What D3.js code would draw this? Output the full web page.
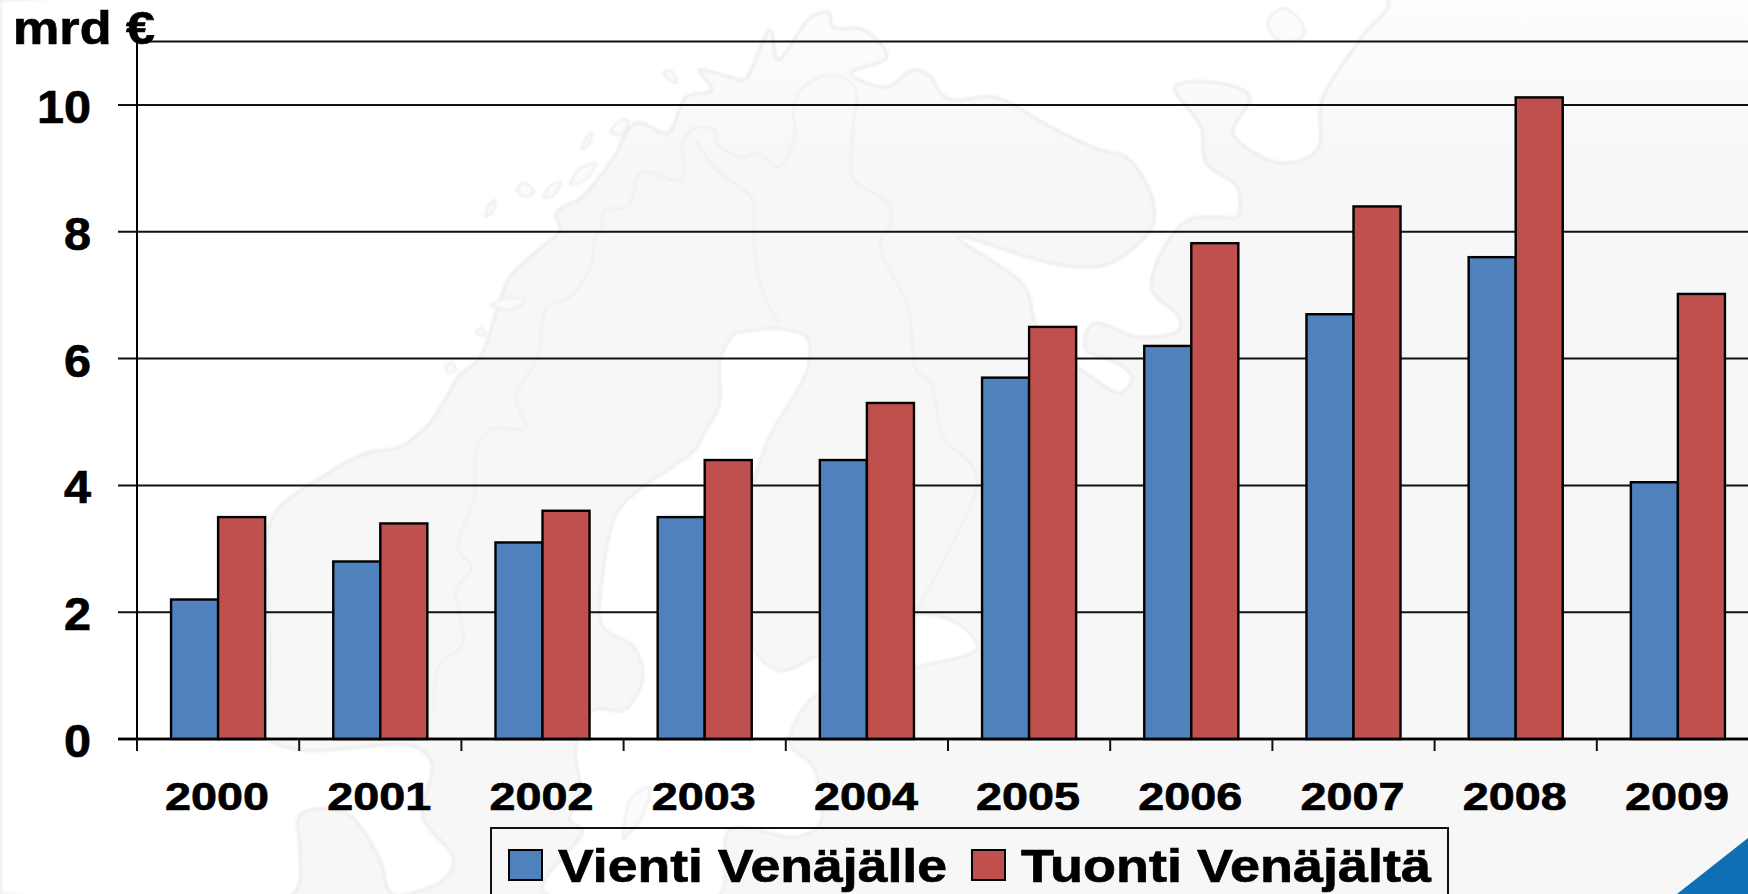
<!DOCTYPE html>
<html lang="fi">
<head>
<meta charset="utf-8">
<title>Vienti ja tuonti Venäjälle</title>
<script src="https://d3js.org/d3.v7.min.js"></script>
<style>
html,body{margin:0;padding:0;background:#fff;overflow:hidden}
svg{display:block}
text{font-family:"Liberation Sans",Arial,sans-serif;font-weight:700;fill:#000;stroke:#000;stroke-width:0.7px}
</style>
</head>
<body>
<script>
// Chart data
const years = ["2000","2001","2002","2003","2004","2005","2006","2007","2008","2009"];
const vienti = [2.2,2.8,3.1,3.5,4.4,5.7,6.2,6.7,7.6,4.05];
const tuonti = [3.5,3.4,3.6,4.4,5.3,6.5,7.82,8.4,10.12,7.02];
const seriesNames = ["Vienti Venäjälle","Tuonti Venäjältä"];
const seriesColors = ["#4f81bd","#c0504d"];
const yTicks = [0,2,4,6,8,10];
const unitLabel = "mrd €";

// Decorative background map outlines (watermark behind the chart)
const seaOutline = [[0,894],[293,894],[300,850],[300,815],[345,812],[380,860],[392,894],[447,877],[453,857],[423,817],[432,763],[416,747],[300,750],[267,737],[268,700],[270,665],[268,600],[266,540],[277,510],[317,480],[367,453],[400,447],[428,425],[445,400],[458,377],[480,357],[497,310],[510,277],[542,247],[560,230],[556,213],[582,197],[612,160],[636,123],[668,133],[686,97],[712,90],[699,70],[730,77],[744,80],[770,30],[778,60],[811,17],[829,13],[833,27],[864,30],[887,57],[851,73],[887,87],[913,70],[931,77],[940,93],[954,100],[994,97],[1056,130],[1100,150],[1126,157],[1152,197],[1152,227],[1117,260],[1095,267],[1050,263],[958,237],[1025,287],[1034,320],[1045,350],[1077,367],[1121,393],[1132,377],[1117,363],[1086,350],[1086,333],[1095,323],[1139,337],[1179,330],[1179,317],[1152,290],[1161,253],[1188,220],[1219,217],[1237,217],[1237,187],[1206,163],[1201,127],[1175,87],[1219,83],[1250,97],[1233,133],[1281,163],[1317,150],[1322,100],[1362,37],[1388,0],[0,0]];
const balticOutline = [[735,333],[721,357],[719,407],[704,433],[695,450],[643,487],[617,513],[603,573],[603,627],[634,647],[643,677],[625,710],[594,710],[576,747],[580,790],[570,820],[583,830],[543,890],[717,898],[730,830],[797,837],[820,823],[813,767],[790,745],[798,716],[817,695],[917,667],[977,648],[960,625],[917,614],[860,640],[817,656],[780,671],[753,648],[752,620],[750,500],[768,440],[808,367],[806,337],[770,328]];
const borderLines = [
  [[681,143],[681,180],[641,173],[628,207],[605,210],[601,230],[594,240],[592,263],[570,297],[547,307],[538,357],[516,397],[525,427],[489,430],[476,450],[474,497],[458,550],[472,567],[456,590],[463,643],[438,667],[434,710]],
  [[695,140],[717,170],[753,200],[753,227],[762,290],[779,323]],
  [[681,143],[695,128],[715,130],[717,143],[744,158],[757,153],[779,167],[795,133],[793,110],[802,88],[833,75],[855,88],[853,130],[853,178],[873,193],[887,202],[891,223],[880,243],[909,310],[916,370],[931,383],[943,436],[973,467],[977,486],[917,610]]
];
const islandLines = [
  [[1268,20],[1282,8],[1300,20],[1304,35],[1285,42],[1270,32],[1268,20]],
  [[623,840],[630,800],[650,787],[640,820],[623,840]],
  [[581,150],[586,138],[592,132],[588,146],[581,150]],
  [[570,185],[578,170],[596,163],[585,180],[570,185]],
  [[516,190],[524,183],[534,192],[524,197],[516,190]],
  [[543,198],[550,186],[561,182],[553,196],[543,198]],
  [[485,217],[489,205],[496,200],[491,214],[485,217]],
  [[610,132],[618,122],[628,120],[622,135],[610,132]],
  [[663,72],[670,70],[677,83],[669,80],[663,72]],
  [[491,305],[505,298],[525,300],[510,310],[491,305]],
  [[476,330],[482,328],[485,335],[478,335],[476,330]],
  [[445,367],[452,363],[456,370],[448,373],[445,367]]
];
const cornerShape = [[1677,894],[1748,838],[1748,894]];

const W = 1748, H = 894;
const svg = d3.select("body").append("svg").attr("width",W).attr("height",H).attr("viewBox",`0 0 ${W} ${H}`);

const defs = svg.append("defs");
const grad = defs.append("linearGradient").attr("id","landFill").attr("gradientUnits","userSpaceOnUse")
  .attr("x1",0).attr("y1",0).attr("x2",0).attr("y2",170);
grad.append("stop").attr("offset",0).attr("stop-color","#fdfdfd");
grad.append("stop").attr("offset",1).attr("stop-color","#f7f7f7");
const soft = defs.append("filter").attr("id","soft");
soft.append("feGaussianBlur").attr("stdDeviation",0.8);

// Background
const bg = svg.append("g").attr("class","background");
bg.append("rect").attr("width",W).attr("height",H).attr("fill","url(#landFill)");
const curve = d3.line().curve(d3.curveCatmullRom.alpha(0.5));
const map = bg.append("g").attr("filter","url(#soft)");
map.append("path").attr("d",curve(seaOutline)+"Z").attr("fill","#fff").attr("stroke","#ededed").attr("stroke-width",3);
map.append("path").attr("d",curve(balticOutline)+"Z").attr("fill","#fff").attr("stroke","#ededed").attr("stroke-width",2.5);
map.selectAll(".border").data(borderLines).join("path").attr("class","border")
  .attr("d",d=>curve(d)).attr("fill","none").attr("stroke","#eeeeee").attr("stroke-width",2);
map.selectAll(".island").data(islandLines).join("path").attr("class","island")
  .attr("d",d=>curve(d)).attr("fill","#fbfbfb").attr("stroke","#ececec").attr("stroke-width",2);
bg.append("path").attr("d",d3.line()(cornerShape)+"Z").attr("fill","#0f6fb5");

// Scales
const x = d3.scaleBand().domain(years).range([137,137+1622]).paddingInner(0.42).paddingOuter(0.21);
const inner = d3.scaleBand().domain(seriesNames).range([0,x.bandwidth()]);
const y = d3.scaleLinear().domain([0,11]).range([739,41.6]);

// Gridlines and y axis
const yAxis = d3.axisLeft(y).tickValues(yTicks).tickSize(0).tickPadding(0).tickFormat(d3.format("d"));
const gy = svg.append("g").attr("transform","translate(137,0)").call(yAxis);
gy.select(".domain").remove();
gy.selectAll("text").attr("x",-46).attr("dy",null)
  .attr("y",17.5).style("font-size","47px").attr("text-anchor","end")
  .each(function(d){ d3.select(this).attr("textLength", String(d).length*27).attr("lengthAdjust","spacingAndGlyphs"); });
svg.append("g").selectAll("line").data(yTicks.concat([11])).join("line")
  .attr("x1",d=>d===11?137:118).attr("x2",W)
  .attr("y1",d=>y(d)).attr("y2",d=>y(d))
  .attr("stroke","#111").attr("stroke-width",d=>d===0?2.5:2);
svg.append("line").attr("x1",137).attr("x2",137).attr("y1",y(11)).attr("y2",751)
  .attr("stroke","#000").attr("stroke-width",2);

// Bars
const bars = [vienti,tuonti];
const groups = svg.append("g").selectAll("g").data(seriesNames).join("g")
  .attr("fill",(d,i)=>seriesColors[i]);
groups.selectAll("rect").data((d,i)=>years.map((yr,j)=>({yr,name:d,v:bars[i][j]}))).join("rect")
  .attr("x",d=>x(d.yr)+inner(d.name)).attr("width",inner.bandwidth())
  .attr("y",d=>y(d.v)).attr("height",d=>y(0)-y(d.v))
  .attr("stroke","#000").attr("stroke-width",2.4);
svg.append("line").attr("x1",118).attr("x2",W).attr("y1",y(0)).attr("y2",y(0))
  .attr("stroke","#000").attr("stroke-width",2.5);

// X ticks on category boundaries
svg.append("g").selectAll("line").data(years).join("line")
  .attr("x1",d=>x(d)-x.step()*0.21).attr("x2",d=>x(d)-x.step()*0.21)
  .attr("y1",y(0)).attr("y2",751).attr("stroke","#111").attr("stroke-width",2);

// X labels
const xAxis = d3.axisBottom(x).tickSize(0).tickPadding(0);
const gx = svg.append("g").attr("transform","translate(-1,739)").call(xAxis);
gx.select(".domain").remove();
gx.selectAll("text").attr("y",71).attr("dy",null)
  .style("font-size","39px").attr("textLength",104).attr("lengthAdjust","spacingAndGlyphs");

// Unit label
svg.append("text").attr("x",13).attr("y",44).style("font-size","47px")
  .attr("textLength",142).attr("lengthAdjust","spacingAndGlyphs").text(unitLabel);

// Legend
const legend = svg.append("g");
legend.append("rect").attr("x",491).attr("y",828).attr("width",957).attr("height",90)
  .attr("fill","none").attr("stroke","#111").attr("stroke-width",2);
const legendSwatchX = [509,972], legendTextX = [558,1021], legendTextW = [389,410];
seriesNames.forEach((n,i)=>{
  legend.append("rect").attr("x",legendSwatchX[i]).attr("y",850).attr("width",33).attr("height",30)
    .attr("fill",seriesColors[i]).attr("stroke","#000").attr("stroke-width",2);
  legend.append("text").attr("x",legendTextX[i]).attr("y",882).style("font-size","47px")
    .attr("textLength",legendTextW[i]).attr("lengthAdjust","spacingAndGlyphs").text(n);
});
</script>
</body>
</html>
